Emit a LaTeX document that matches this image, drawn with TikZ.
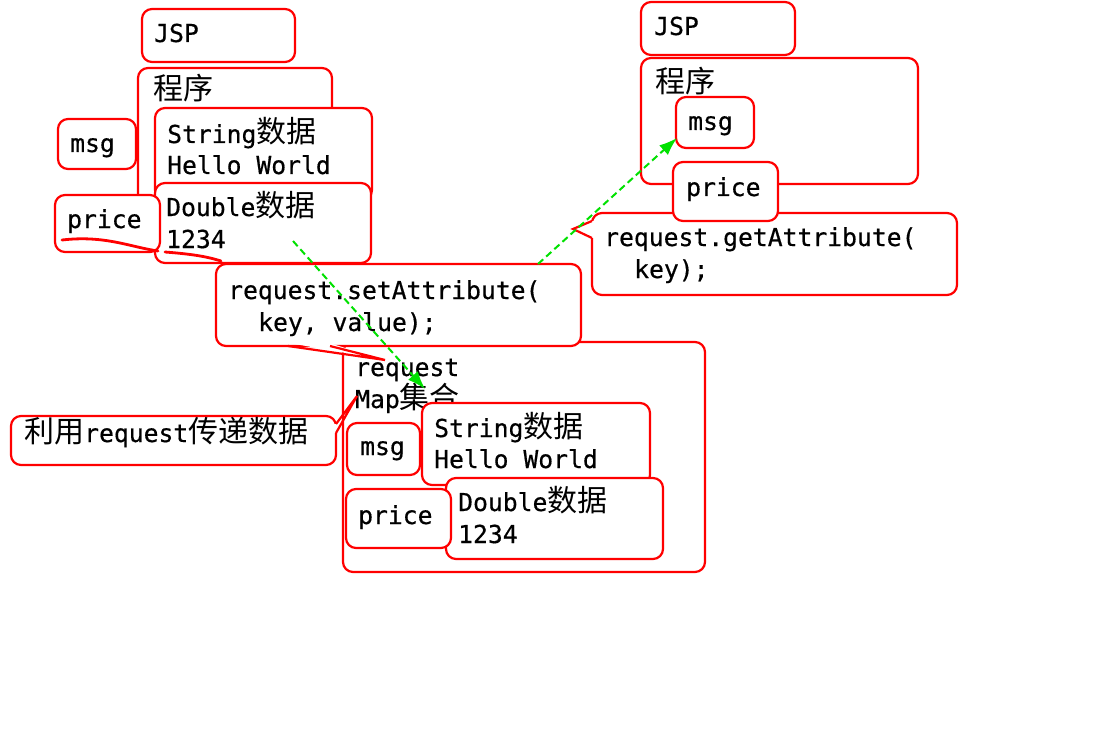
\documentclass[tikz,border=0pt]{standalone}
\usepackage{fontspec}
\setmainfont{DejaVu Sans Mono}[FakeBold=0.5]
\newfontfamily\cjkfont{Noto Sans CJK SC}
\newcommand{\han}[1]{{\cjkfont\fontsize{30}{32}\selectfont #1}}
\usetikzlibrary{arrows.meta}
\definecolor{boxred}{RGB}{255,0,0}
\definecolor{flowgreen}{RGB}{0,225,0}
\tikzset{
  box/.style={draw=boxred, line width=2.2pt, fill=white, rounded corners=10pt},
  tipline/.style={draw=boxred, line width=2.2pt, line join=miter},
  lbl/.style={anchor=base west, inner sep=0pt, font=\fontsize{24.7}{32}\selectfont, text=black},
  flow/.style={draw=flowgreen, line width=2pt, dash pattern=on 7pt off 4pt,
               -{Latex[length=18pt,width=13pt]}},
  underline/.style={draw=boxred, line width=2.8pt, line cap=round}
}
\begin{document}
\begin{tikzpicture}[x=1pt,y=-1pt]
\useasboundingbox (0,0) rectangle (1094,738);

% ---- left: JSP program holding the values ----
\draw[box] (142,9) rectangle (295,62);
\node[lbl] (jspL) at (154,42) {JSP};
\draw[box] (138,68) rectangle (332,248);
\node[lbl] (progL) at (153,100) {\han{程序}};
\draw[box] (58,119) rectangle (136,169);
\node[lbl] (msgL) at (70,152) {msg};
\draw[box] (155,108) rectangle (372,200);
\node[lbl] (strL1) at (167,143) {String\han{数据}};
\node[lbl] (strL2) at (167,174) {Hello World};
\draw[box] (155,183) rectangle (371,263);
\node[lbl] (dblL1) at (166,216) {Double\han{数据}};
\node[lbl] (dblL2) at (166,248) {1234};
\draw[box] (55,195) rectangle (160,252);
\node[lbl] (priceL) at (67,228) {price};
\draw[underline] (62,240) .. controls (105,235) and (130,247) .. (158,251);
\draw[underline] (165,252) .. controls (190,254) and (205,256) .. (221,261);

% ---- request Map collection ----
\draw[box] (343,342) rectangle (705,572);

% setAttribute callout
\draw[box] (216,264) rectangle (581,346);
\fill[white] (289,343) -- (385,360) -- (329,343) -- cycle;
\draw[tipline] (288,346) -- (385,360) -- (330,346);
\node[lbl] (setA1) at (228,299) {request.setAttribute(};
\node[lbl] (setA2) at (258,331) {key, value);};

\node[lbl] (reqM1) at (355,376) {request};
\node[lbl] (reqM2) at (355,408) {Map\han{集合}};
\draw[box] (422,403) rectangle (650,485);
\node[lbl] (strM1) at (434,437) {String\han{数据}};
\node[lbl] (strM2) at (434,468) {Hello World};
\draw[box] (446,478) rectangle (663,559);
\node[lbl] (dblM1) at (458,511) {Double\han{数据}};
\node[lbl] (dblM2) at (458,543) {1234};
\draw[box] (347,423) rectangle (420,475);
\node[lbl] (msgM) at (360,455) {msg};
\draw[box] (346,489) rectangle (451,548);
\node[lbl] (priceM) at (358,524) {price};

% caption callout
\draw[box] (11,416) rectangle (336,465);
\fill[white] (333,424) rectangle (339,433);
\draw[tipline] (336,424) -- (357,396) -- (336,433);
\node[lbl] (capt) at (24,442) {\han{利用}request\han{传递数据}};

% ---- right: JSP program reading the values ----
\draw[box] (641,2) rectangle (795,55);
\node[lbl] (jspR) at (654,35) {JSP};
\draw[box] (641,58) rectangle (918,184);
\node[lbl] (progR) at (655,93) {\han{程序}};
\draw[box] (676,97) rectangle (754,148);
\node[lbl] (msgR) at (688,130) {msg};

% getAttribute callout
\draw[box] (592,213) rectangle (957,295);
\fill[white] (589,221) rectangle (595,238);
\draw[tipline] (592,221) -- (573,229) -- (592,238);
\node[lbl] (getA1) at (604,246) {request.getAttribute(};
\node[lbl] (getA2) at (634,278) {key);};

\draw[box] (673,162) rectangle (778,221);
\node[lbl] (priceR) at (686,196) {price};

% ---- data flow ----
\coordinate (putFrom) at (293,241);
\coordinate (putTo) at (425,389);
\coordinate (getFrom) at (538,264);
\coordinate (getTo) at (677,138);
\draw[flow] (putFrom) -- (putTo);
\draw[flow] (getFrom) -- (getTo);
\end{tikzpicture}
\end{document}
